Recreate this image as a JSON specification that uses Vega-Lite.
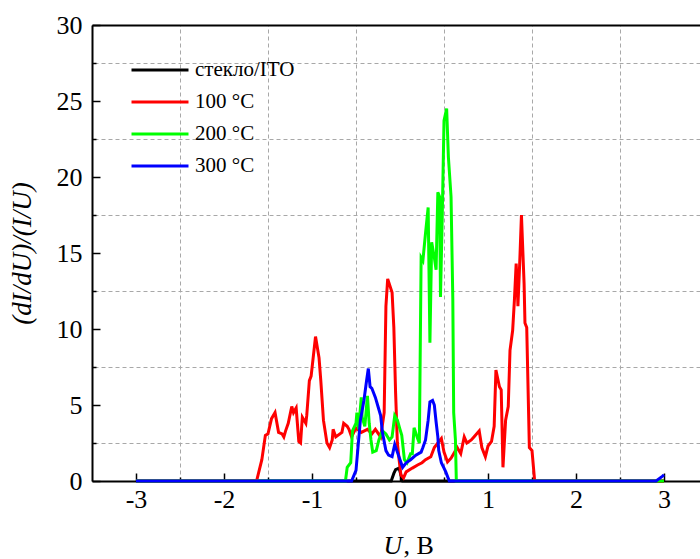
{
  "$schema": "https://vega.github.io/schema/vega-lite/v6.json",
  "width": 608,
  "height": 456,
  "autosize": {"type": "none"},
  "padding": {"left": 92, "top": 25, "right": 0, "bottom": 78},
  "background": "white",
  "config": {
    "font": "Liberation Serif",
    "view": {"stroke": null},
    "axis": {"labelFont": "Liberation Serif", "titleFont": "Liberation Serif", "labelColor": "black", "titleColor": "black", "titleFontWeight": "normal", "domainColor": "black", "tickColor": "black"}
  },
  "datasets": {
    "curves": [
      {"s": "стекло/ITO", "U": -3, "v": 0},
      {"s": "стекло/ITO", "U": -0.1, "v": 0},
      {"s": "стекло/ITO", "U": -0.07, "v": 0.5},
      {"s": "стекло/ITO", "U": -0.05, "v": 0.75},
      {"s": "стекло/ITO", "U": -0.01, "v": 0.85},
      {"s": "стекло/ITO", "U": 0.01, "v": 0.4},
      {"s": "стекло/ITO", "U": 0.03, "v": 0},
      {"s": "стекло/ITO", "U": 3, "v": 0},

      {"s": "100 °C", "U": -3, "v": 0},
      {"s": "100 °C", "U": -1.63, "v": 0},
      {"s": "100 °C", "U": -1.57, "v": 1.4},
      {"s": "100 °C", "U": -1.53, "v": 3.0},
      {"s": "100 °C", "U": -1.5, "v": 3.1},
      {"s": "100 °C", "U": -1.46, "v": 4.1},
      {"s": "100 °C", "U": -1.42, "v": 4.5},
      {"s": "100 °C", "U": -1.38, "v": 3.2},
      {"s": "100 °C", "U": -1.34, "v": 3.1},
      {"s": "100 °C", "U": -1.32, "v": 2.9},
      {"s": "100 °C", "U": -1.3, "v": 3.3},
      {"s": "100 °C", "U": -1.27, "v": 3.8},
      {"s": "100 °C", "U": -1.23, "v": 4.9},
      {"s": "100 °C", "U": -1.21, "v": 4.5},
      {"s": "100 °C", "U": -1.18, "v": 4.8},
      {"s": "100 °C", "U": -1.15, "v": 2.6},
      {"s": "100 °C", "U": -1.13, "v": 2.5},
      {"s": "100 °C", "U": -1.11, "v": 4.2},
      {"s": "100 °C", "U": -1.07, "v": 3.8},
      {"s": "100 °C", "U": -1.06, "v": 4.3},
      {"s": "100 °C", "U": -1.03, "v": 6.6},
      {"s": "100 °C", "U": -1.01, "v": 6.9},
      {"s": "100 °C", "U": -0.96, "v": 9.5},
      {"s": "100 °C", "U": -0.92, "v": 8.1},
      {"s": "100 °C", "U": -0.9, "v": 6.6},
      {"s": "100 °C", "U": -0.87, "v": 4.0},
      {"s": "100 °C", "U": -0.83, "v": 2.5},
      {"s": "100 °C", "U": -0.8, "v": 2.2},
      {"s": "100 °C", "U": -0.77, "v": 2.7},
      {"s": "100 °C", "U": -0.76, "v": 3.4},
      {"s": "100 °C", "U": -0.73, "v": 2.9},
      {"s": "100 °C", "U": -0.66, "v": 3.2},
      {"s": "100 °C", "U": -0.64, "v": 3.8},
      {"s": "100 °C", "U": -0.6, "v": 3.6},
      {"s": "100 °C", "U": -0.58, "v": 3.4},
      {"s": "100 °C", "U": -0.55, "v": 2.9},
      {"s": "100 °C", "U": -0.5, "v": 3.5},
      {"s": "100 °C", "U": -0.44, "v": 3.2},
      {"s": "100 °C", "U": -0.37, "v": 3.4},
      {"s": "100 °C", "U": -0.32, "v": 3.1},
      {"s": "100 °C", "U": -0.28, "v": 3.4},
      {"s": "100 °C", "U": -0.22, "v": 2.9},
      {"s": "100 °C", "U": -0.18, "v": 4.5},
      {"s": "100 °C", "U": -0.16, "v": 11.5},
      {"s": "100 °C", "U": -0.14, "v": 13.3},
      {"s": "100 °C", "U": -0.09, "v": 12.4},
      {"s": "100 °C", "U": -0.07, "v": 10.1},
      {"s": "100 °C", "U": -0.05, "v": 5.8},
      {"s": "100 °C", "U": -0.03, "v": 2.5},
      {"s": "100 °C", "U": -0.01, "v": 1.4},
      {"s": "100 °C", "U": 0.01, "v": 0.4},
      {"s": "100 °C", "U": 0.04, "v": 0.2},
      {"s": "100 °C", "U": 0.07, "v": 0.6},
      {"s": "100 °C", "U": 0.14, "v": 0.85},
      {"s": "100 °C", "U": 0.2, "v": 1.05},
      {"s": "100 °C", "U": 0.25, "v": 1.2},
      {"s": "100 °C", "U": 0.29, "v": 1.4},
      {"s": "100 °C", "U": 0.35, "v": 1.6},
      {"s": "100 °C", "U": 0.39, "v": 2.2},
      {"s": "100 °C", "U": 0.43, "v": 2.5},
      {"s": "100 °C", "U": 0.47, "v": 2.8},
      {"s": "100 °C", "U": 0.5, "v": 1.9},
      {"s": "100 °C", "U": 0.54, "v": 1.25},
      {"s": "100 °C", "U": 0.58, "v": 1.5},
      {"s": "100 °C", "U": 0.61, "v": 1.8},
      {"s": "100 °C", "U": 0.65, "v": 2.2},
      {"s": "100 °C", "U": 0.69, "v": 1.8},
      {"s": "100 °C", "U": 0.73, "v": 2.9},
      {"s": "100 °C", "U": 0.76, "v": 2.5},
      {"s": "100 °C", "U": 0.81, "v": 2.7},
      {"s": "100 °C", "U": 0.84, "v": 2.9},
      {"s": "100 °C", "U": 0.9, "v": 3.3},
      {"s": "100 °C", "U": 0.93, "v": 2.2},
      {"s": "100 °C", "U": 0.97, "v": 1.6},
      {"s": "100 °C", "U": 1.0, "v": 2.3},
      {"s": "100 °C", "U": 1.04, "v": 2.6},
      {"s": "100 °C", "U": 1.07, "v": 3.6},
      {"s": "100 °C", "U": 1.09, "v": 7.3},
      {"s": "100 °C", "U": 1.13, "v": 6.2},
      {"s": "100 °C", "U": 1.15, "v": 6.0},
      {"s": "100 °C", "U": 1.17, "v": 0.9},
      {"s": "100 °C", "U": 1.2, "v": 4.0},
      {"s": "100 °C", "U": 1.23, "v": 4.9},
      {"s": "100 °C", "U": 1.25, "v": 8.6},
      {"s": "100 °C", "U": 1.28, "v": 9.9},
      {"s": "100 °C", "U": 1.3, "v": 11.9},
      {"s": "100 °C", "U": 1.32, "v": 14.3},
      {"s": "100 °C", "U": 1.33, "v": 13.2},
      {"s": "100 °C", "U": 1.34, "v": 11.5},
      {"s": "100 °C", "U": 1.36, "v": 14.3},
      {"s": "100 °C", "U": 1.38, "v": 17.5},
      {"s": "100 °C", "U": 1.41, "v": 13.0},
      {"s": "100 °C", "U": 1.42, "v": 10.4},
      {"s": "100 °C", "U": 1.44, "v": 10.1},
      {"s": "100 °C", "U": 1.47, "v": 2.2},
      {"s": "100 °C", "U": 1.5, "v": 2.0},
      {"s": "100 °C", "U": 1.53, "v": 0},
      {"s": "100 °C", "U": 3, "v": 0},

      {"s": "200 °C", "U": -3, "v": 0},
      {"s": "200 °C", "U": -0.62, "v": 0},
      {"s": "200 °C", "U": -0.6, "v": 0.9},
      {"s": "200 °C", "U": -0.56, "v": 1.2},
      {"s": "200 °C", "U": -0.54, "v": 3.3},
      {"s": "200 °C", "U": -0.5, "v": 3.8},
      {"s": "200 °C", "U": -0.49, "v": 4.5},
      {"s": "200 °C", "U": -0.47, "v": 3.4},
      {"s": "200 °C", "U": -0.44, "v": 5.5},
      {"s": "200 °C", "U": -0.43, "v": 4.2},
      {"s": "200 °C", "U": -0.4, "v": 3.6},
      {"s": "200 °C", "U": -0.37, "v": 5.6},
      {"s": "200 °C", "U": -0.35, "v": 3.8},
      {"s": "200 °C", "U": -0.33, "v": 2.7},
      {"s": "200 °C", "U": -0.31, "v": 1.9},
      {"s": "200 °C", "U": -0.27, "v": 2.0},
      {"s": "200 °C", "U": -0.24, "v": 2.7},
      {"s": "200 °C", "U": -0.2, "v": 3.3},
      {"s": "200 °C", "U": -0.16, "v": 3.1},
      {"s": "200 °C", "U": -0.12, "v": 2.7},
      {"s": "200 °C", "U": -0.09, "v": 2.9},
      {"s": "200 °C", "U": -0.06, "v": 4.3},
      {"s": "200 °C", "U": -0.03, "v": 4.0},
      {"s": "200 °C", "U": 0.0, "v": 3.4},
      {"s": "200 °C", "U": 0.02, "v": 3.0},
      {"s": "200 °C", "U": 0.05, "v": 1.4},
      {"s": "200 °C", "U": 0.08, "v": 1.2},
      {"s": "200 °C", "U": 0.12, "v": 1.8},
      {"s": "200 °C", "U": 0.14, "v": 1.8},
      {"s": "200 °C", "U": 0.16, "v": 3.5},
      {"s": "200 °C", "U": 0.2, "v": 2.8},
      {"s": "200 °C", "U": 0.22, "v": 2.5},
      {"s": "200 °C", "U": 0.24, "v": 14.7},
      {"s": "200 °C", "U": 0.26, "v": 14.5},
      {"s": "200 °C", "U": 0.29, "v": 16.3},
      {"s": "200 °C", "U": 0.32, "v": 18.0},
      {"s": "200 °C", "U": 0.34, "v": 9.1},
      {"s": "200 °C", "U": 0.36, "v": 15.7},
      {"s": "200 °C", "U": 0.39, "v": 14.7},
      {"s": "200 °C", "U": 0.41, "v": 13.9},
      {"s": "200 °C", "U": 0.43, "v": 19.0},
      {"s": "200 °C", "U": 0.45, "v": 18.7},
      {"s": "200 °C", "U": 0.46, "v": 12.1},
      {"s": "200 °C", "U": 0.48, "v": 17.4},
      {"s": "200 °C", "U": 0.5, "v": 23.7},
      {"s": "200 °C", "U": 0.53, "v": 24.5},
      {"s": "200 °C", "U": 0.55, "v": 21.3},
      {"s": "200 °C", "U": 0.58, "v": 18.7},
      {"s": "200 °C", "U": 0.6, "v": 12.0},
      {"s": "200 °C", "U": 0.61, "v": 4.5},
      {"s": "200 °C", "U": 0.63, "v": 2.7},
      {"s": "200 °C", "U": 0.64, "v": 0},
      {"s": "200 °C", "U": 3, "v": 0},

      {"s": "300 °C", "U": -3, "v": 0},
      {"s": "300 °C", "U": -0.55, "v": 0},
      {"s": "300 °C", "U": -0.5, "v": 0.7},
      {"s": "300 °C", "U": -0.47, "v": 2.7},
      {"s": "300 °C", "U": -0.45, "v": 4.0},
      {"s": "300 °C", "U": -0.41, "v": 5.3},
      {"s": "300 °C", "U": -0.38, "v": 6.6},
      {"s": "300 °C", "U": -0.36, "v": 7.4},
      {"s": "300 °C", "U": -0.34, "v": 6.2},
      {"s": "300 °C", "U": -0.32, "v": 6.1},
      {"s": "300 °C", "U": -0.28, "v": 5.5},
      {"s": "300 °C", "U": -0.25, "v": 4.9},
      {"s": "300 °C", "U": -0.22, "v": 4.3},
      {"s": "300 °C", "U": -0.2, "v": 3.2},
      {"s": "300 °C", "U": -0.16, "v": 2.0},
      {"s": "300 °C", "U": -0.13, "v": 1.7},
      {"s": "300 °C", "U": -0.09, "v": 1.6},
      {"s": "300 °C", "U": -0.06, "v": 2.4},
      {"s": "300 °C", "U": -0.03, "v": 1.9},
      {"s": "300 °C", "U": 0.0, "v": 1.4},
      {"s": "300 °C", "U": 0.03, "v": 0.9},
      {"s": "300 °C", "U": 0.07, "v": 1.2},
      {"s": "300 °C", "U": 0.12, "v": 1.4},
      {"s": "300 °C", "U": 0.18, "v": 1.7},
      {"s": "300 °C", "U": 0.24, "v": 1.9},
      {"s": "300 °C", "U": 0.26, "v": 2.2},
      {"s": "300 °C", "U": 0.29, "v": 2.7},
      {"s": "300 °C", "U": 0.32, "v": 4.0},
      {"s": "300 °C", "U": 0.34, "v": 5.2},
      {"s": "300 °C", "U": 0.37, "v": 5.3},
      {"s": "300 °C", "U": 0.39, "v": 5.0},
      {"s": "300 °C", "U": 0.41, "v": 3.9},
      {"s": "300 °C", "U": 0.43, "v": 2.9},
      {"s": "300 °C", "U": 0.44, "v": 2.0},
      {"s": "300 °C", "U": 0.47, "v": 1.2},
      {"s": "300 °C", "U": 0.5, "v": 0.85},
      {"s": "300 °C", "U": 0.52, "v": 0.6},
      {"s": "300 °C", "U": 0.56, "v": 0},
      {"s": "300 °C", "U": 2.91, "v": 0},
      {"s": "300 °C", "U": 2.98, "v": 0.3},
      {"s": "300 °C", "U": 3.0, "v": 0.4}
    ]
  },
  "data": {"name": "curves"},
  "layer": [
    {
      "mark": {"type": "line", "opacity": 0},
      "encoding": {
        "x": {"field": "U", "type": "quantitative", "scale": {"domain": [-3.5, 3.409], "nice": false, "zero": false},
          "axis": {"orient": "top", "values": [-3.5, -2.5, -1.5, -0.5, 0.5, 1.5, 2.5], "grid": true, "gridColor": "#a8a8a8", "gridDash": [4, 3], "gridWidth": 1, "ticks": false, "labels": false, "domain": true, "domainWidth": 2, "title": null}},
        "y": {"field": "v", "type": "quantitative", "scale": {"domain": [0, 30], "nice": false},
          "axis": {"orient": "right", "values": [2.5, 7.5, 12.5, 17.5, 22.5, 27.5], "grid": true, "gridColor": "#a8a8a8", "gridDash": [4, 3], "gridWidth": 1, "ticks": false, "labels": false, "domain": false, "title": null}},
        "detail": {"field": "s"}
      }
    },
    {
      "mark": {"type": "line", "opacity": 0},
      "encoding": {
        "x": {"field": "U", "type": "quantitative", "scale": {"domain": [-3.5, 3.409], "nice": false, "zero": false},
          "axis": {"orient": "bottom", "values": [-2.5, -1.5, -0.5, 0.5, 1.5, 2.5], "grid": false, "ticks": true, "tickSize": -4, "tickWidth": 1.5, "labels": false, "domain": false,
            "title": ", В", "titleFontSize": 26, "titleFontStyle": "normal", "titleAlign": "left", "titleBaseline": "alphabetic", "titleX": 311, "titleY": 72}},
        "y": {"field": "v", "type": "quantitative", "scale": {"domain": [0, 30], "nice": false},
          "axis": {"orient": "left", "values": [2.5, 7.5, 12.5, 17.5, 22.5, 27.5], "grid": false, "ticks": true, "tickSize": -4, "tickWidth": 1.5, "labels": false, "domain": false, "title": null}},
        "detail": {"field": "s"}
      }
    },
    {
      "mark": {"type": "line", "strokeWidth": 3},
      "encoding": {
        "x": {"field": "U", "type": "quantitative", "scale": {"domain": [-3.5, 3.409], "nice": false, "zero": false},
          "axis": {"orient": "bottom", "values": [-3, -2, -1, 0, 1, 2, 3], "grid": false, "tickSize": -8, "tickWidth": 1.5, "domainWidth": 2, "labelFontSize": 26, "labelPadding": 13, "labelFlush": false,
            "labelExpr": "datum.value < 0 ? '-' + abs(datum.value) : '' + datum.value",
            "title": "U", "titleFontSize": 26, "titleFontStyle": "italic", "titleAlign": "left", "titleBaseline": "alphabetic", "titleX": 291, "titleY": 72}},
        "y": {"field": "v", "type": "quantitative", "scale": {"domain": [0, 30], "nice": false},
          "axis": {"orient": "left", "values": [0, 5, 10, 15, 20, 25, 30], "grid": false, "tickSize": -8, "tickWidth": 1.5, "domainWidth": 2, "labelFontSize": 26, "labelPadding": 18, "labelFlush": false,
            "title": "(dI/dU)/(I/U)", "titleFontSize": 27, "titleFontStyle": "italic", "titlePadding": 20}},
        "color": {"field": "s", "type": "nominal",
          "scale": {"domain": ["стекло/ITO", "100 °C", "200 °C", "300 °C"], "range": ["#000000", "#ff0000", "#00ff00", "#0000ff"]},
          "legend": {"orient": "none", "legendX": 52, "legendY": 29, "title": null, "symbolType": "M-2,0H2", "symbolSize": 812, "symbolStrokeWidth": 3, "symbolFillColor": "transparent", "labelFont": "Liberation Serif", "labelFontSize": 21, "labelColor": "black", "labelOffset": 19, "rowPadding": 6, "padding": 0}}
      }
    }
  ],
  "resolve": {"axis": {"x": "independent", "y": "independent"}}
}
